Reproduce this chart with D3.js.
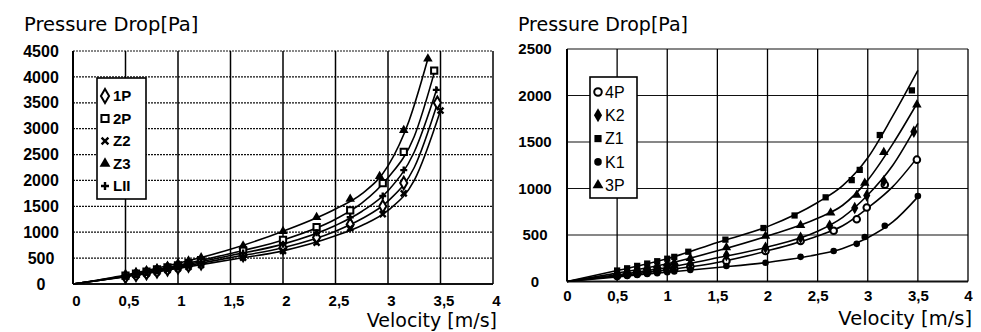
<!DOCTYPE html>
<html><head><meta charset="utf-8">
<script src="https://cdn.jsdelivr.net/npm/d3@7"></script>
<style>body{margin:0;background:#fff}svg{display:block}</style>
</head><body>
<svg id="c" width="981" height="332"></svg>
<script>
// ---------- data ----------
const velTicks = [0, 0.5, 1, 1.5, 2, 2.5, 3, 3.5, 4];
const velLabels = ["0", "0,5", "1", "1,5", "2", "2,5", "3", "3,5", "4"];
const leftPTicks = [0, 500, 1000, 1500, 2000, 2500, 3000, 3500, 4000, 4500];
const rightPTicks = [0, 500, 1000, 1500, 2000, 2500];

const leftNames = ["1P", "2P", "Z2", "Z3", "LII"];
const rightNames = ["4P", "K2", "Z1", "K1", "3P"];

// left panel – measured points [velocity, pressure drop]
const ptsZ3 = [[0.5,170],[0.6,215],[0.7,255],[0.8,300],[0.9,350],[1.0,400],[1.1,450],[1.22,510],[1.62,740],[2.0,1020],[2.32,1290],[2.64,1640],[2.92,2080],[3.15,2970],[3.38,4350]];
const pts2P = [[0.5,160],[0.6,200],[0.7,240],[0.8,280],[0.9,320],[1.0,360],[1.1,405],[1.22,460],[1.62,650],[2.0,850],[2.32,1100],[2.64,1420],[2.95,1950],[3.15,2550],[3.44,4120]];
const ptsLII = [[0.5,150],[0.6,185],[0.7,225],[0.8,260],[0.9,300],[1.0,340],[1.1,380],[1.22,430],[1.62,600],[2.0,770],[2.32,990],[2.64,1290],[2.95,1700],[3.15,2200],[3.46,3750]];
const pts1P = [[0.5,140],[0.6,175],[0.7,210],[0.8,245],[0.9,285],[1.0,320],[1.1,355],[1.22,400],[1.62,560],[2.0,700],[2.32,900],[2.64,1150],[2.95,1500],[3.15,1950],[3.47,3500]];
const ptsZ2 = [[0.5,135],[0.6,165],[0.7,195],[0.8,230],[0.9,265],[1.0,300],[1.1,330],[1.22,370],[1.62,510],[2.0,640],[2.32,800],[2.64,1080],[2.95,1350],[3.15,1750],[3.5,3350]];
// left panel – fitted curves
const fitZ3 = [[0,0],[0.5,175],[1,400],[1.5,670],[2,1020],[2.5,1450],[2.75,1740],[3,2280],[3.2,3150],[3.38,4350]];
const fit2P = [[0,0],[0.5,160],[1,360],[1.5,590],[2,850],[2.5,1250],[2.75,1560],[3,2050],[3.25,2850],[3.45,4150]];
const fitLII = [[0,0],[0.5,150],[1,340],[1.5,550],[2,770],[2.5,1130],[2.75,1400],[3,1800],[3.25,2550],[3.47,3800]];
const fit1P = [[0,0],[0.5,145],[1,320],[1.5,510],[2,700],[2.5,1020],[2.75,1260],[3,1600],[3.25,2250],[3.48,3550]];
const fitZ2 = [[0,0],[0.5,140],[1,300],[1.5,470],[2,640],[2.5,930],[2.75,1130],[3,1420],[3.25,2000],[3.5,3350]];

// right panel – measured points
const ptsZ1 = [[0.5,118],[0.6,142],[0.7,168],[0.8,193],[0.9,218],[1.0,245],[1.07,265],[1.21,320],[1.58,450],[1.96,575],[2.27,710],[2.58,905],[2.84,1090],[2.92,1200],[3.12,1575],[3.44,2055]];
const pts3P = [[0.5,90],[0.6,110],[0.7,130],[0.8,150],[0.9,170],[1.0,190],[1.07,205],[1.23,250],[1.59,365],[1.98,490],[2.33,605],[2.63,740],[2.89,930],[2.97,1060],[3.16,1390],[3.49,1900]];
const ptsK2 = [[0.5,72],[0.6,87],[0.7,102],[0.8,118],[0.9,134],[1.0,150],[1.07,162],[1.23,190],[1.59,282],[1.98,365],[2.33,470],[2.62,600],[2.87,790],[2.99,925],[3.16,1080],[3.46,1610]];
const pts4P = [[0.5,60],[0.6,72],[0.7,85],[0.8,98],[0.9,112],[1.0,125],[1.07,135],[1.23,160],[1.59,220],[1.98,328],[2.33,435],[2.66,545],[2.89,670],[2.99,795],[3.17,1040],[3.49,1310]];
const ptsK1 = [[0.5,50],[0.6,60],[0.7,70],[0.8,80],[0.9,90],[1.0,100],[1.07,108],[1.23,125],[1.59,167],[1.98,202],[2.33,265],[2.66,328],[2.89,405],[2.97,478],[3.17,600],[3.5,920]];
// right panel – fitted curves
const fitZ1 = [[0,0],[0.5,118],[1,245],[1.5,420],[2,590],[2.5,850],[2.75,1030],[3,1330],[3.25,1780],[3.5,2270]];
const fit3P = [[0,0],[0.5,90],[1,190],[1.5,330],[2,490],[2.5,680],[2.75,820],[3,1090],[3.25,1480],[3.5,1930]];
const fitK2 = [[0,0],[0.5,72],[1,150],[1.5,255],[2,370],[2.5,540],[2.75,690],[3,930],[3.25,1250],[3.5,1700]];
const fit4P = [[0,0],[0.5,60],[1,125],[1.5,205],[2,330],[2.5,490],[2.75,600],[3,790],[3.25,1020],[3.5,1340]];
const fitK1 = [[0,0],[0.5,50],[1,100],[1.5,150],[2,205],[2.5,290],[2.75,355],[3,470],[3.25,640],[3.5,910]];

// ---------- drawing ----------
const svg = d3.select("#c");
const titleFont = "'DejaVu Sans', sans-serif";
const tickFont = "'Liberation Sans', Arial, sans-serif";

function markerPath(kind, size) {
  const s = size;
  switch (kind) {
    case "diamond": return d3.symbol(d3.symbolDiamond, s * s * 0.9)();
    case "square": return d3.symbol(d3.symbolSquare, s * s * 0.8)();
    case "circle": return d3.symbol(d3.symbolCircle, s * s * 0.7)();
    case "triangle": return d3.symbol(d3.symbolTriangle, s * s * 0.8)();
    case "plus": { const h = s / 2; return `M${-h},0L${h},0M0,${-h}L0,${h}`; }
    case "times": { const h = s / 2 * 0.85; return `M${-h},${-h}L${h},${h}M${-h},${h}L${h},${-h}`; }
  }
}
function drawMarker(g, kind, open, x, y, size) {
  const p = g.append("path").attr("d", markerPath(kind, size)).attr("transform", `translate(${x},${y})`);
  if (kind === "plus" || kind === "times") p.attr("fill", "none").attr("stroke", "#000").attr("stroke-width", 2.4);
  else if (open) p.attr("fill", "#fff").attr("stroke", "#000").attr("stroke-width", 2);
  else p.attr("fill", "#000");
}

function panel(cfg) {
  const g = svg.append("g");
  const x = d3.scaleLinear().domain([0, 4]).range(cfg.xr);
  const y = d3.scaleLinear().domain([0, cfg.ymax]).range(cfg.yr);
  // horizontal grid
  g.selectAll(".hg").data(cfg.yTicks).join("line")
    .attr("x1", x(0)).attr("x2", x(4)).attr("y1", d => y(d)).attr("y2", d => y(d))
    .attr("stroke", "#111").attr("stroke-width", d => d === 0 ? 2 : cfg.hgW)
    .attr("stroke-dasharray", d => d === 0 ? null : cfg.hgDash);
  // vertical grid
  g.selectAll(".vg").data(velTicks).join("line")
    .attr("x1", d => x(d)).attr("x2", d => x(d)).attr("y1", y(0)).attr("y2", y(cfg.ymax))
    .attr("stroke", "#000").attr("stroke-width", d => d === 0 ? 2 : cfg.vgW);
  // axes labels via d3 axes
  const ya = g.append("g").attr("transform", `translate(${x(0)},0)`)
    .call(d3.axisLeft(y).tickValues(cfg.yTicks).tickSize(0).tickFormat(d3.format("d")));
  ya.select(".domain").remove();
  ya.selectAll("text").attr("text-anchor", "middle").attr("x", cfg.yLabX - x(0))
    .attr("font-family", tickFont).attr("font-size", cfg.tickSize).attr("font-weight", "bold").attr("fill", "#000");
  const xa = g.append("g").attr("transform", `translate(0,${y(0)})`)
    .call(d3.axisBottom(x).tickValues(velTicks).tickSize(0).tickPadding(cfg.xPad).tickFormat((d, i) => velLabels[i]));
  xa.select(".domain").remove();
  xa.selectAll("text").attr("dx", cfg.xdx)
    .attr("font-family", tickFont).attr("font-size", cfg.xTickSize).attr("font-weight", "bold").attr("fill", "#000");

  // curves
  const line = d3.line().x(d => x(d[0])).y(d => y(d[1])).curve(d3.curveMonotoneX);
  cfg.series.forEach(s => {
    g.append("path").attr("d", line(s.fit)).attr("fill", "none").attr("stroke", "#000").attr("stroke-width", 1.6);
  });
  cfg.series.forEach(s => {
    s.pts.forEach(p => drawMarker(g, s.kind, s.open, x(p[0]), y(p[1]), 7));
  });

  // legend
  const lg = cfg.legend;
  g.append("rect").attr("x", lg.x).attr("y", lg.y).attr("width", lg.w).attr("height", lg.h)
    .attr("fill", "#fff").attr("stroke", "#000").attr("stroke-width", 1.6);
  cfg.series.slice().sort((a, b) => a.order - b.order).forEach((s, i) => {
    const cy = lg.y0 + i * lg.dy;
    drawMarker(g, s.kind, s.open, lg.mx, cy, 8);
    g.append("text").attr("x", lg.tx).attr("y", cy).attr("dy", "0.36em")
      .attr("font-family", tickFont).attr("font-size", lg.fs).attr("font-weight", lg.fw).text(s.name);
  });

  // titles
  g.append("text").attr("x", cfg.titleX).attr("y", 31).attr("font-family", titleFont)
    .attr("font-size", cfg.titleSize).attr("fill", "#000").text("Pressure Drop[Pa]");
  g.append("text").attr("x", cfg.velX).attr("y", cfg.velY).attr("text-anchor", "end")
    .attr("font-family", titleFont).attr("font-size", cfg.velSize).attr("fill", "#000").text("Velocity [m/s]");
}

panel({
  xr: [73, 493], yr: [284, 51], ymax: 4500, yTicks: leftPTicks,
  hgW: 1.2, hgDash: "2,1", vgW: 1.5, yLabX: 41, tickSize: 16, xTickSize: 15, xPad: 11.5, xdx: 3,
  titleX: 24, titleSize: 19.5, velX: 497, velY: 327, velSize: 19,
  legend: { x: 97, y: 78, w: 49, h: 121, y0: 96, dy: 22.5, mx: 105, tx: 113, fs: 15, fw: "bold" },
  series: [
    { name: "1P", kind: "diamond", open: true, pts: pts1P, fit: fit1P, order: 0 },
    { name: "2P", kind: "square", open: true, pts: pts2P, fit: fit2P, order: 1 },
    { name: "Z2", kind: "times", open: false, pts: ptsZ2, fit: fitZ2, order: 2 },
    { name: "Z3", kind: "triangle", open: false, pts: ptsZ3, fit: fitZ3, order: 3 },
    { name: "LII", kind: "plus", open: false, pts: ptsLII, fit: fitLII, order: 4 }
  ]
});

panel({
  xr: [567, 968], yr: [281.5, 49], ymax: 2500, yTicks: rightPTicks,
  hgW: 1.2, hgDash: null, vgW: 1.3, yLabX: 535, tickSize: 15, xTickSize: 15, xPad: 9, xdx: 0,
  titleX: 518, titleSize: 19, velX: 972, velY: 325, velSize: 19.5,
  legend: { x: 590, y: 77, w: 47, h: 121, y0: 92, dy: 23.3, mx: 598, tx: 605, fs: 16, fw: "normal" },
  series: [
    { name: "4P", kind: "circle", open: true, pts: pts4P, fit: fit4P, order: 0 },
    { name: "K2", kind: "diamond", open: false, pts: ptsK2, fit: fitK2, order: 1 },
    { name: "Z1", kind: "square", open: false, pts: ptsZ1, fit: fitZ1, order: 2 },
    { name: "K1", kind: "circle", open: false, pts: ptsK1, fit: fitK1, order: 3 },
    { name: "3P", kind: "triangle", open: false, pts: pts3P, fit: fit3P, order: 4 }
  ]
});
</script>
</body></html>
